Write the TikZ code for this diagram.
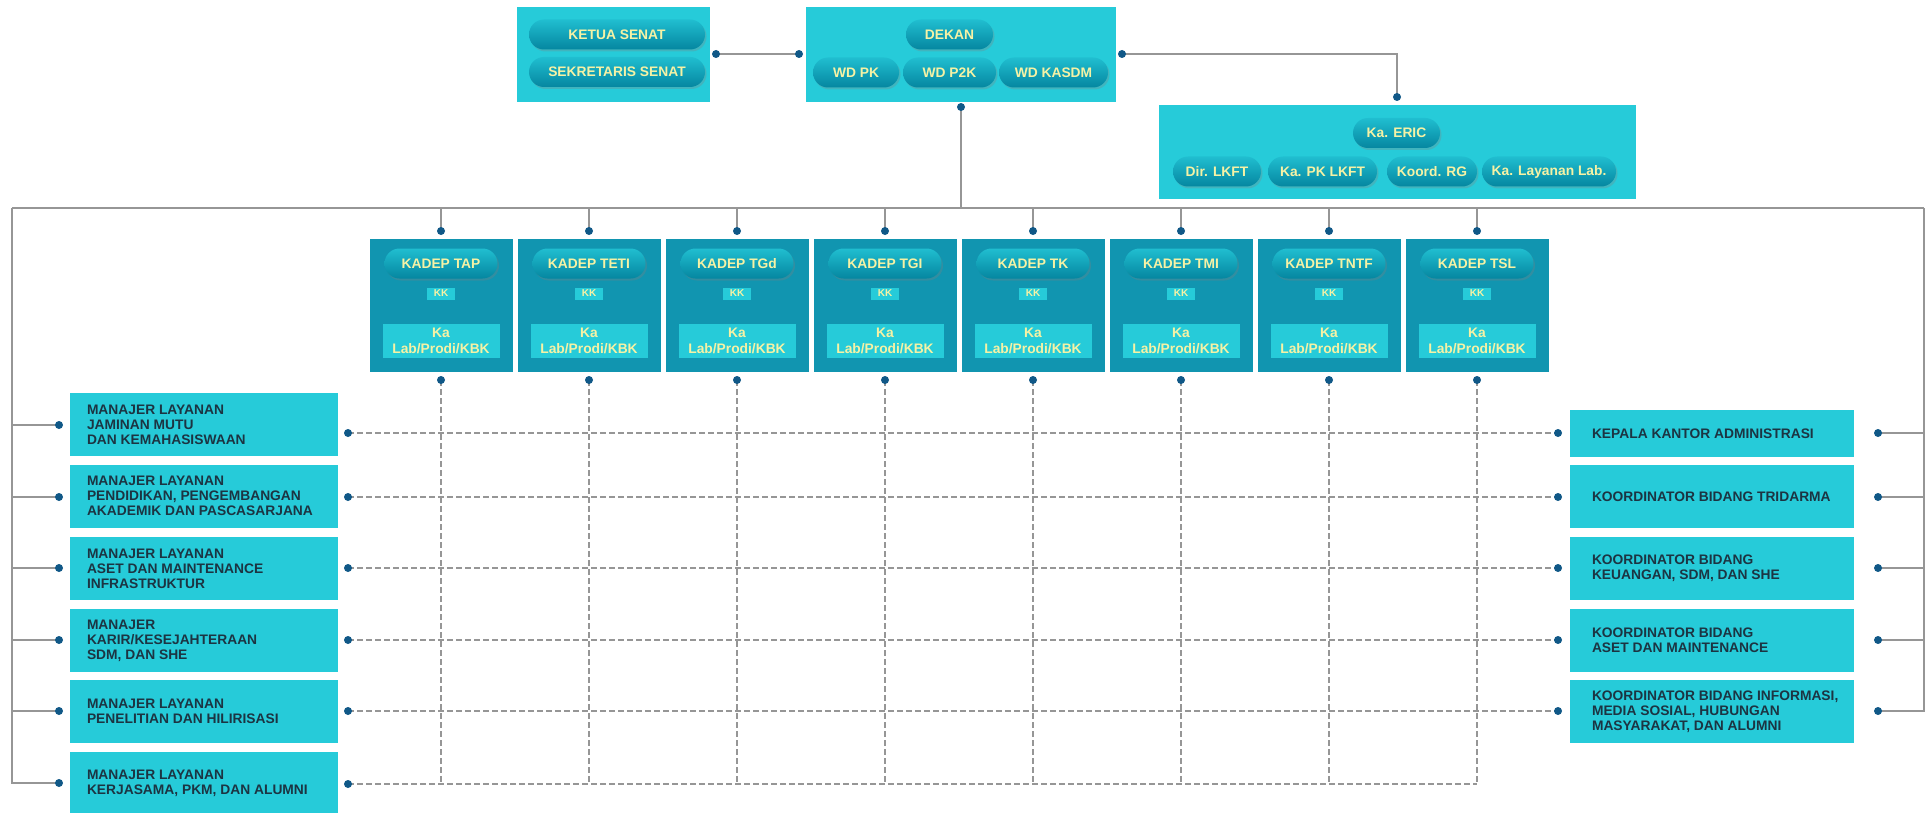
\documentclass[tikz,border=0pt]{standalone}
\usepackage{fontspec}
\setmainfont{Liberation Sans}
\usetikzlibrary{shadows}

\definecolor{panelcyan}{RGB}{38,203,217}
\definecolor{deptteal}{RGB}{17,149,176}
\definecolor{pilltop}{RGB}{32,190,208}
\definecolor{pillbot}{RGB}{5,134,160}
\definecolor{pilltext}{RGB}{246,242,165}
\definecolor{dotblue}{RGB}{16,88,135}
\definecolor{linegray}{RGB}{150,150,150}
\definecolor{darktext}{RGB}{28,52,66}

\begin{document}
\begin{tikzpicture}[x=1pt, y=-1pt,
    panel/.style={fill=panelcyan, inner sep=0pt},
    deptbox/.style={fill=deptteal, inner sep=0pt, minimum width=143pt, minimum height=133pt},
    pill/.style={rounded corners=15pt, top color=pilltop, bottom color=pillbot,
        text=pilltext, inner sep=0pt, minimum height=30pt, minimum width=#1,
        font=\bfseries\fontsize{13.8}{15}\selectfont,
        drop shadow={opacity=0.3, shadow xshift=1.5pt, shadow yshift=-2pt}},
    pill/.default=90pt,
    kkbox/.style={fill=panelcyan, text=pilltext, inner sep=0pt, minimum width=28pt,
        minimum height=12pt, font=\bfseries\fontsize{10}{11}\selectfont},
    labbox/.style={fill=panelcyan, text=pilltext, inner sep=0pt, minimum width=117pt,
        minimum height=34pt, align=center, font=\bfseries\fontsize{13.8}{15.5}\selectfont},
    sidebox/.style={fill=panelcyan, inner sep=0pt, minimum height=63pt},
    sidetext/.style={anchor=west, inner sep=0pt, align=left, text=darktext,
        font=\bfseries\fontsize{13.8}{15}\selectfont},
    wire/.style={draw=linegray, line width=1.6pt},
    dashwire/.style={draw=linegray, line width=1.3pt, dash pattern=on 6pt off 3pt}]

    \useasboundingbox (0,0) rectangle (1926,813);
    \fill[white] (0,0) rectangle (1926,813);

    % Senat
    \node[panel, minimum width=193pt, minimum height=95pt] (senat) at (613.5,54.5) {};
    \node[pill=176pt] (ketua) at (617,34.5) {KETUA SENAT};
    \node[pill=176pt] (sekre) at (617,72) {SEKRETARIS SENAT};

    % Dekanat
    \node[panel, minimum width=310pt, minimum height=95pt] (dekanat) at (961,54.5) {};
    \node[pill=87pt] (dekan) at (949.5,34.5) {DEKAN};
    \node[pill=86pt] (wdpk) at (856,72.5) {WD PK};
    \node[pill=93pt] (wdptk) at (949.5,72.5) {WD P2K};
    \node[pill=109pt] (wdkasdm) at (1053.5,72.5) {WD KASDM};

    % ERIC
    \node[panel, minimum width=477pt, minimum height=94pt] (eric) at (1397.5,152) {};
    \node[pill=87pt] (kaeric) at (1396.5,133) {Ka. ERIC};
    \node[pill=88pt] (dirlkft) at (1217,171.5) {Dir. LKFT};
    \node[pill=109pt] (kapk) at (1322.5,171.5) {Ka. PK LKFT};
    \node[pill=90pt] (koordrg) at (1432,171.5) {Koord. RG};
    \node[pill=134pt] (kalayanan) at (1549,171.5) {Ka. Layanan Lab.};

    % Departemen
    \foreach \dep [count=\i from 0] in {TAP,TETI,TGd,TGI,TK,TMI,TNTF,TSL}{
        \pgfmathsetmacro{\cx}{441+148*\i}
        \node[deptbox] (dep\i) at (\cx,305.5) {};
        \node[pill=113pt] (kadep\i) at (\cx,263.5) {KADEP \dep};
        \node[kkbox] (kk\i) at (\cx,293.5) {KK};
        \node[labbox] (lab\i) at (\cx,341) {Ka\\Lab/Prodi/KBK};
        \coordinate (depBus\i) at (\cx,208);
        \coordinate (depT\i) at (\cx,231);
        \coordinate (depB\i) at (\cx,380);
        \coordinate (depG\i) at (\cx,784);
    }

    % Manajer (left)
    \node[sidebox, minimum width=268pt] (mgr1) at (204,424.5) {};
    \node[sidetext] (mgr1t) at ([xshift=17pt]mgr1.west) {MANAJER LAYANAN\\JAMINAN MUTU\\DAN KEMAHASISWAAN};
    \node[sidebox, minimum width=268pt] (mgr2) at (204,496) {};
    \node[sidetext] (mgr2t) at ([xshift=17pt]mgr2.west) {MANAJER LAYANAN\\PENDIDIKAN, PENGEMBANGAN\\AKADEMIK DAN PASCASARJANA};
    \node[sidebox, minimum width=268pt] (mgr3) at (204,568.5) {};
    \node[sidetext] (mgr3t) at ([xshift=17pt]mgr3.west) {MANAJER LAYANAN\\ASET DAN MAINTENANCE\\INFRASTRUKTUR};
    \node[sidebox, minimum width=268pt] (mgr4) at (204,640.5) {};
    \node[sidetext] (mgr4t) at ([xshift=17pt]mgr4.west) {MANAJER\\KARIR/KESEJAHTERAAN\\SDM, DAN SHE};
    \node[sidebox, minimum width=268pt] (mgr5) at (204,711.5) {};
    \node[sidetext] (mgr5t) at ([xshift=17pt]mgr5.west) {MANAJER LAYANAN\\PENELITIAN DAN HILIRISASI};
    \node[sidebox, minimum width=268pt] (mgr6) at (204,783.5) {};
    \node[sidetext] (mgr6t) at ([xshift=17pt]mgr6.west) {MANAJER LAYANAN\\KERJASAMA, PKM, DAN ALUMNI};

    % Koordinator (right)
    \node[sidebox, minimum width=284pt, minimum height=47pt] (koor1) at (1712,433.5) {};
    \node[sidetext] (koor1t) at ([xshift=22pt]koor1.west) {KEPALA KANTOR ADMINISTRASI};
    \node[sidebox, minimum width=284pt] (koor2) at (1712,496.5) {};
    \node[sidetext] (koor2t) at ([xshift=22pt]koor2.west) {KOORDINATOR BIDANG TRIDARMA};
    \node[sidebox, minimum width=284pt] (koor3) at (1712,568.5) {};
    \node[sidetext] (koor3t) at ([xshift=22pt]koor3.west) {KOORDINATOR BIDANG\\KEUANGAN, SDM, DAN SHE};
    \node[sidebox, minimum width=284pt] (koor4) at (1712,640.5) {};
    \node[sidetext] (koor4t) at ([xshift=22pt]koor4.west) {KOORDINATOR BIDANG\\ASET DAN MAINTENANCE};
    \node[sidebox, minimum width=284pt] (koor5) at (1712,711.5) {};
    \node[sidetext] (koor5t) at ([xshift=22pt]koor5.west) {KOORDINATOR BIDANG INFORMASI,\\MEDIA SOSIAL, HUBUNGAN\\MASYARAKAT, DAN ALUMNI};

    % Connector ends
    \coordinate (senatR) at (716,54);
    \coordinate (dekanL) at (799,54);
    \coordinate (dekanR) at (1122,54);
    \coordinate (ericT) at (1397,97);
    \coordinate (dekanB) at (961,107);
    \coordinate (busL) at (12,208);
    \coordinate (busM) at (961,208);
    \coordinate (busR) at (1924,208);
    \foreach \yl/\yr [count=\i] in {425/433,497/497,568/568,640/640,711/711,783/784}{
        \coordinate (mgrL\i) at (59,\yl);
        \coordinate (mgrR\i) at (348,\yr);
    }
    \foreach \y [count=\i] in {433,497,568,640,711}{
        \coordinate (koorL\i) at (1558,\y);
        \coordinate (koorR\i) at (1878,\y);
    }

    % Solid lines
    \draw[wire] (senatR) -- (dekanL);
    \draw[wire] (dekanR) -| (ericT);
    \draw[wire] (dekanB) -- (busM);
    \draw[wire] (busL) -- (busR);
    \foreach \i in {0,...,7} \draw[wire] (depBus\i) -- (depT\i);
    \foreach \i in {1,...,6} \draw[wire] (busL) |- (mgrL\i);
    \foreach \i in {1,...,5} \draw[wire] (busR) |- (koorR\i);

    % Dashed grid
    \foreach \i in {0,...,7} \draw[dashwire] (depB\i) -- (depG\i);
    \foreach \i in {1,...,5} \draw[dashwire] (mgrR\i) -- (koorL\i);
    \draw[dashwire] (mgrR6) -- (depG7);

    % Dots
    \foreach \c in {senatR,dekanL,dekanR,ericT,dekanB}
        \fill[dotblue] (\c) circle (4pt);
    \foreach \i in {0,...,7}{
        \fill[dotblue] (depT\i) circle (4pt);
        \fill[dotblue] (depB\i) circle (4pt);
    }
    \foreach \i in {1,...,6}{
        \fill[dotblue] (mgrL\i) circle (4pt);
        \fill[dotblue] (mgrR\i) circle (4pt);
    }
    \foreach \i in {1,...,5}{
        \fill[dotblue] (koorL\i) circle (4pt);
        \fill[dotblue] (koorR\i) circle (4pt);
    }
\end{tikzpicture}
\end{document}
